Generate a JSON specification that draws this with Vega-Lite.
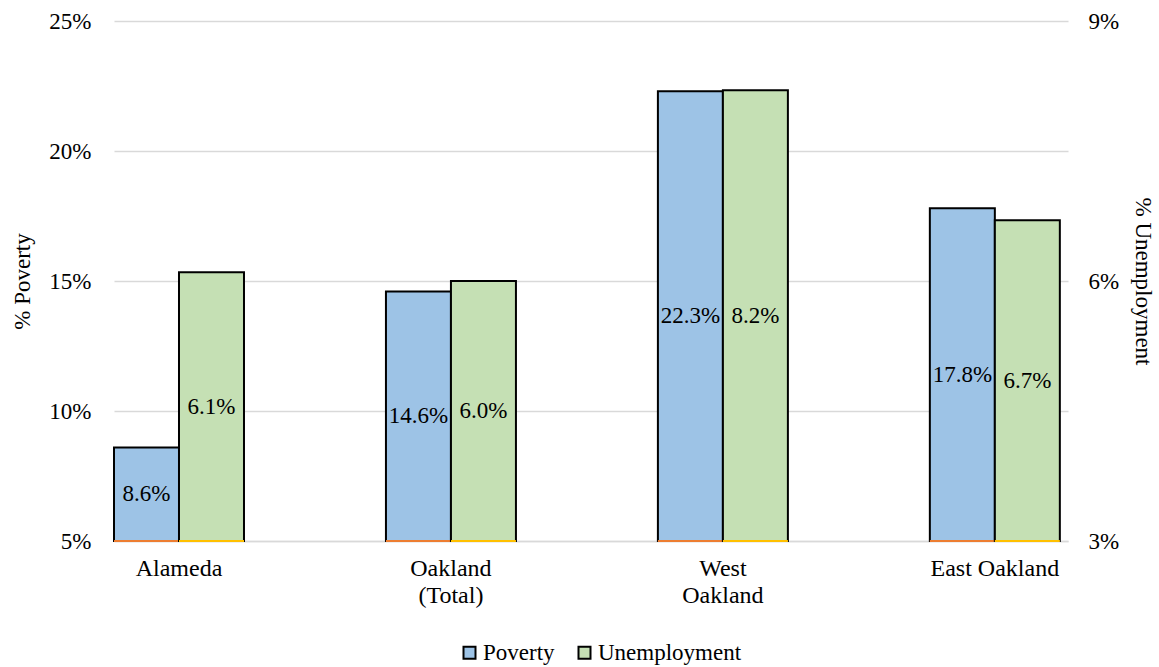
{
  "$schema": "https://vega.github.io/schema/vega-lite/v6.json",
  "width": 954,
  "height": 520,
  "autosize": "none",
  "padding": {"left": 114, "top": 21, "right": 91, "bottom": 126},
  "background": "white",
  "config": {
    "font": "Liberation Serif",
    "view": {"stroke": null},
    "axis": {
      "labelFont": "Liberation Serif",
      "labelFontSize": 23,
      "labelColor": "#000000",
      "titleFont": "Liberation Serif",
      "titleFontSize": 23,
      "titleFontWeight": "normal",
      "titleColor": "#000000"
    },
    "legend": {
      "orient": "none",
      "legendX": 344,
      "legendY": 620,
      "direction": "horizontal",
      "title": null,
      "symbolType": "square",
      "symbolSize": 144,
      "symbolStrokeColor": "#000000",
      "symbolStrokeWidth": 2,
      "labelFont": "Liberation Serif",
      "labelFontSize": 23,
      "labelColor": "#000000",
      "columnPadding": 18,
      "symbolOffset": 0,
      "labelOffset": 2
    }
  },
  "data": {
    "values": [
      {"region": "Alameda", "series": "Poverty", "value": 8.6},
      {"region": "Oakland (Total)", "series": "Poverty", "value": 14.6},
      {"region": "West Oakland", "series": "Poverty", "value": 22.3},
      {"region": "East Oakland", "series": "Poverty", "value": 17.8},
      {"region": "Alameda", "series": "Unemployment", "value": 6.1},
      {"region": "Oakland (Total)", "series": "Unemployment", "value": 6.0},
      {"region": "West Oakland", "series": "Unemployment", "value": 8.2},
      {"region": "East Oakland", "series": "Unemployment", "value": 6.7}
    ]
  },
  "encoding": {
    "x": {
      "field": "region",
      "type": "nominal",
      "sort": ["Alameda", "Oakland (Total)", "West Oakland", "East Oakland"],
      "scale": {"paddingInner": 0.522, "paddingOuter": 0.015, "align": 0},
      "axis": {
        "title": null,
        "labelAngle": 0,
        "ticks": false,
        "domainColor": "#d9d9d9",
        "domainWidth": 1.5,
        "labelPadding": 15,
        "labelFontSize": 24,
        "labelLineHeight": 27,
        "labelExpr": "datum.label == 'Oakland (Total)' ? ['Oakland', '(Total)'] : datum.label == 'West Oakland' ? ['West', 'Oakland'] : datum.label"
      }
    },
    "xOffset": {
      "field": "series",
      "type": "nominal",
      "scale": {"domain": ["Poverty", "Unemployment"], "paddingInner": 0, "paddingOuter": 0}
    }
  },
  "layer": [
    {
      "layer": [
        {
          "transform": [{"filter": "datum.series == 'Poverty'"}],
          "mark": {"type": "bar", "stroke": "#000000", "strokeWidth": 2},
          "encoding": {
            "y": {
              "field": "value",
              "type": "quantitative",
              "scale": {"domain": [5, 25], "zero": false, "nice": false},
              "axis": {
                "orient": "left",
                "values": [5, 10, 15, 20, 25],
                "labelExpr": "datum.value + '%'",
                "domain": false,
                "ticks": false,
                "grid": true,
                "gridColor": "#d9d9d9",
                "gridWidth": 1.5,
                "labelPadding": 23,
                "title": "% Poverty",
                "titlePadding": 14
              }
            },
            "y2": {"datum": 5},
            "color": {
              "field": "series",
              "type": "nominal",
              "scale": {"domain": ["Poverty", "Unemployment"], "range": ["#9DC3E6", "#C5E0B4"]}
            }
          }
        },
        {
          "transform": [{"filter": "datum.series == 'Poverty'"}],
          "mark": {"type": "bar", "stroke": "#ED7D31", "strokeWidth": 2, "fillOpacity": 0},
          "encoding": {
            "y": {"datum": 5},
            "y2": {"datum": 5}
          }
        },
        {
          "transform": [
            {"filter": "datum.series == 'Poverty'"},
            {"calculate": "(datum.value + 5) / 2", "as": "mid"},
            {"calculate": "format(datum.value, '.1f') + '%'", "as": "label"}
          ],
          "mark": {"type": "text", "font": "Liberation Serif", "fontSize": 23, "color": "#000000", "baseline": "middle", "align": "center"},
          "encoding": {
            "y": {"field": "mid", "type": "quantitative"},
            "text": {"field": "label", "type": "nominal"}
          }
        }
      ]
    },
    {
      "layer": [
        {
          "transform": [{"filter": "datum.series == 'Unemployment'"}],
          "mark": {"type": "bar", "stroke": "#000000", "strokeWidth": 2},
          "encoding": {
            "y": {
              "field": "value",
              "type": "quantitative",
              "scale": {"domain": [3, 9], "zero": false, "nice": false},
              "axis": {
                "orient": "right",
                "values": [3, 6, 9],
                "labelExpr": "datum.value + '%'",
                "domain": false,
                "ticks": false,
                "grid": false,
                "labelPadding": 20,
                "title": "% Unemployment",
                "titlePadding": 12
              }
            },
            "y2": {"datum": 3},
            "color": {
              "field": "series",
              "type": "nominal",
              "scale": {"domain": ["Poverty", "Unemployment"], "range": ["#9DC3E6", "#C5E0B4"]}
            }
          }
        },
        {
          "transform": [{"filter": "datum.series == 'Unemployment'"}],
          "mark": {"type": "bar", "stroke": "#FFC000", "strokeWidth": 2, "fillOpacity": 0},
          "encoding": {
            "y": {"datum": 3},
            "y2": {"datum": 3}
          }
        },
        {
          "transform": [
            {"filter": "datum.series == 'Unemployment'"},
            {"calculate": "(datum.value + 3) / 2", "as": "mid"},
            {"calculate": "format(datum.value, '.1f') + '%'", "as": "label"}
          ],
          "mark": {"type": "text", "font": "Liberation Serif", "fontSize": 23, "color": "#000000", "baseline": "middle", "align": "center"},
          "encoding": {
            "y": {"field": "mid", "type": "quantitative"},
            "text": {"field": "label", "type": "nominal"}
          }
        }
      ]
    }
  ],
  "resolve": {"scale": {"y": "independent"}}
}
